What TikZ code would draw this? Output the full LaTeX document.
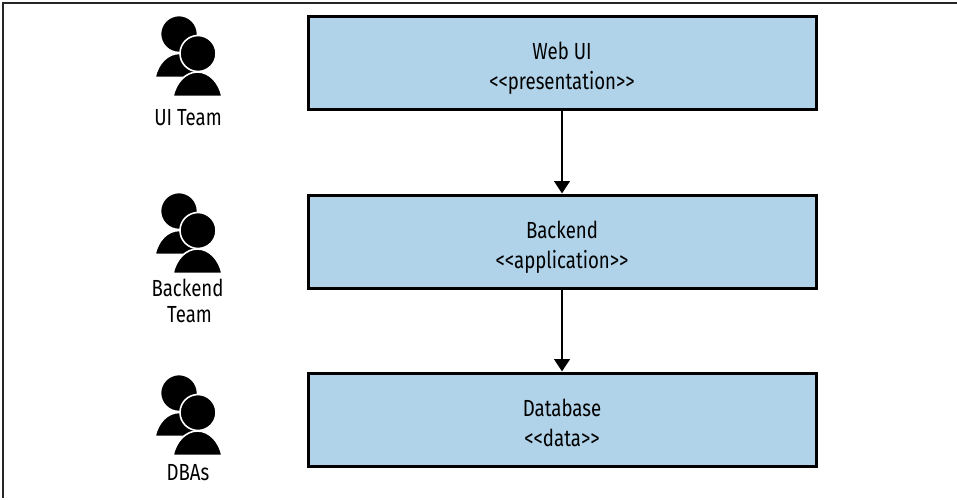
\documentclass[tikz,border=0pt]{standalone}
\usepackage{fontspec}
\setmainfont[FakeStretch=0.8]{Fira Sans}
\usetikzlibrary{arrows.meta}
\definecolor{boxblue}{HTML}{B0D3E9}
\tikzset{
 x=1pt,y=-1pt,
 compbox/.style={draw=black,line width=3pt,fill=boxblue,minimum width=508pt,minimum height=93pt,inner sep=0pt,align=center,font=\fontsize{23.3}{30}\selectfont},
 flow/.style={draw=black,line width=2.8pt,-{Triangle[length=12.5pt,width=15.5pt]},shorten >=0.5pt},
 rolelabel/.style={align=center,font=\fontsize{23.3}{25.5}\selectfont,inner sep=0pt},
 person/.style={fill=black,draw=white,line width=1.6pt},
 frame/.style={draw=black!85,line width=1.6pt}
}
\newcommand{\lift}{\rule{0pt}{27pt}}
\newcommand{\team}[2]{%
 \begin{scope}[shift={(#1,#2)}]
  \path[person] (-31,17.5) .. controls (-28,3) and (-18,-6.5) .. (-7,-6.5) .. controls (4,-6.5) and (14,3) .. (17,17.5) -- cycle;
  \path[person] (-7,-26) circle (18.5);
  \path[person] (-13,36.5) .. controls (-10,22) and (0,12) .. (11.5,12) .. controls (23,12) and (33,22) .. (36,36.5) -- cycle;
  \path[person] (12,-6.5) circle (18);
 \end{scope}}
\begin{document}
\begin{tikzpicture}
\useasboundingbox (0,0) rectangle (957,499);
\draw[frame] (3,498) -- (3,2.8) -- (957,2.8);
\node[compbox] (web) at (562,63) {\lift Web UI\\<{}<presentation>{}>};
\node[compbox] (back) at (562,242) {\lift Backend\\<{}<application>{}>};
\node[compbox] (db) at (562,420) {\rule{0pt}{24pt}Database\\<{}<data>{}>};
\draw[flow] (web) -- (back);
\draw[flow] (back) -- (db);
\team{186}{60}
\team{186}{237}
\team{186}{419}
\node[rolelabel] (ui) at (188,118) {UI Team};
\node[rolelabel] (bt) at (187.5,301) {Backend\\\hspace*{4pt}Team};
\node[rolelabel] (dba) at (188,473) {DBAs};
\end{tikzpicture}
\end{document}
